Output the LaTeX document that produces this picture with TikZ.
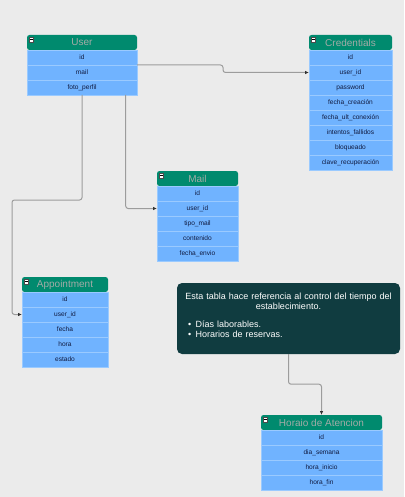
\documentclass[tikz,border=0pt]{standalone}
\usepackage{fontspec}
\setmainfont{Liberation Sans}
\usetikzlibrary{positioning,arrows.meta}
\definecolor{bgcol}{HTML}{EBEBEB}
\definecolor{hdrgreen}{HTML}{008A6E}
\definecolor{hdrtext}{HTML}{A3ABA7}
\definecolor{rowblue}{HTML}{70B3FF}
\definecolor{rowline}{HTML}{9ACAFF}
\definecolor{rowtext}{HTML}{101A40}
\definecolor{notecol}{HTML}{103C40}
\definecolor{linkcol}{HTML}{9C9C9C}
\begin{document}
\begin{tikzpicture}[x=1pt,y=-1pt,>={Latex[length=4pt,width=3.5pt,color=black!80]},
  hdr/.style={fill=hdrgreen, rounded corners=2.5pt, minimum width=#1, minimum height=15pt,
    inner sep=0pt, outer sep=0pt, anchor=north west, text=hdrtext, font=\fontsize{10}{12}\selectfont},
  row/.style={fill=rowblue, draw=rowline, line width=0.6pt, minimum width=#1, minimum height=15pt,
    inner sep=0pt, outer sep=0pt, text=rowtext, font=\fontsize{6.6}{8}\selectfont},
  minusbox/.style={fill=white, draw=black!70, line width=0.4pt},
  note/.style={fill=notecol, rounded corners=5pt, minimum width=223pt, minimum height=71pt,
    text width=215pt, text=white, font=\fontsize{9}{10.5}\selectfont},
  link/.style={->, draw=linkcol, line width=1pt, rounded corners=2.5pt}]

  \useasboundingbox (0,0) rectangle (404,497);
  \fill[bgcol] (0,0) rectangle (404,497);

  % User table
  \node[hdr=110pt] (user) at (27,35) {User};
  \node[row=110pt, below=0pt of user] (user-id) {id};
  \node[row=110pt, below=0pt of user-id] (user-mail) {mail};
  \node[row=110pt, below=0pt of user-mail] (user-foto) {foto\_perfil};

  % Credentials table
  \node[hdr=83pt] (cred) at (309,35) {Credentials};
  \node[row=83pt, below=0pt of cred] (cred-id) {id};
  \node[row=83pt, below=0pt of cred-id] (cred-uid) {user\_id};
  \node[row=83pt, below=0pt of cred-uid] (cred-pass) {password};
  \node[row=83pt, below=0pt of cred-pass] (cred-fcre) {fecha\_creación};
  \node[row=83pt, below=0pt of cred-fcre] (cred-fult) {fecha\_ult\_conexión};
  \node[row=83pt, below=0pt of cred-fult] (cred-int) {intentos\_fallidos};
  \node[row=83pt, below=0pt of cred-int] (cred-bloq) {bloqueado};
  \node[row=83pt, below=0pt of cred-bloq] (cred-clave) {clave\_recuperación};

  % Mail table
  \node[hdr=81pt] (mail) at (157,171) {Mail};
  \node[row=81pt, below=0pt of mail] (mail-id) {id};
  \node[row=81pt, below=0pt of mail-id] (mail-uid) {user\_id};
  \node[row=81pt, below=0pt of mail-uid] (mail-tipo) {tipo\_mail};
  \node[row=81pt, below=0pt of mail-tipo] (mail-cont) {contenido};
  \node[row=81pt, below=0pt of mail-cont] (mail-fecha) {fecha\_envio};

  % Appointment table
  \node[hdr=86pt] (appt) at (22,277) {Appointment};
  \node[row=86pt, below=0pt of appt] (appt-id) {id};
  \node[row=86pt, below=0pt of appt-id] (appt-uid) {user\_id};
  \node[row=86pt, below=0pt of appt-uid] (appt-fecha) {fecha};
  \node[row=86pt, below=0pt of appt-fecha] (appt-hora) {hora};
  \node[row=86pt, below=0pt of appt-hora] (appt-estado) {estado};

  % Horario table
  \node[hdr=121pt] (hor) at (261,415) {Horaio de Atencion};
  \node[row=121pt, below=0pt of hor] (hor-id) {id};
  \node[row=121pt, below=0pt of hor-id] (hor-dia) {dia\_semana};
  \node[row=121pt, below=0pt of hor-dia] (hor-ini) {hora\_inicio};
  \node[row=121pt, below=0pt of hor-ini] (hor-fin) {hora\_fin};

  % collapse icons
  \foreach \t in {user,cred,mail,appt,hor} {
    \draw[minusbox] ([shift={(2,2.5)}]\t.north west) rectangle +(4.5,4.5);
    \draw[line width=0.6pt] ([shift={(3,4.75)}]\t.north west) -- +(2.5,0);
  }

  % Note
  \node[note] (note) at (288.5,318.5) {%
    {\centering Esta tabla hace referencia al control del tiempo del\\ establecimiento.\par}
    \vspace{7pt}
    \hspace*{7pt}\textbullet\hspace{4.5pt}Días laborables.\\
    \hspace*{7pt}\textbullet\hspace{4.5pt}Horarios de reservas.\par\vspace{6pt}};

  % Relations
  \draw[link] (user-id.south east) -- ++(86,0) |- (cred-uid.west);
  \draw[link] ([xshift=43.7pt]user-foto.south) |- (mail-uid.west);
  \draw[link] (user-foto.south) |- (12,200) |- (appt-uid.west);
  \draw[link] (note.south) -- ++(0,30) -| (hor.north);

\end{tikzpicture}
\end{document}
